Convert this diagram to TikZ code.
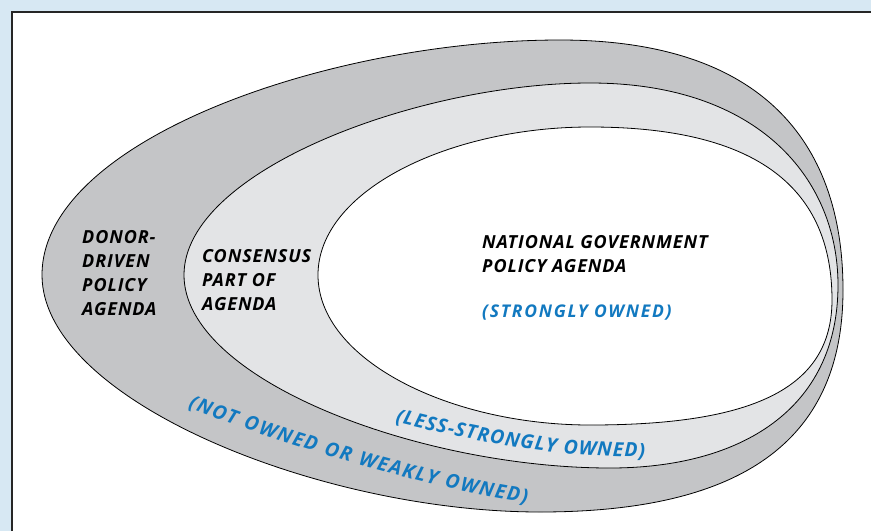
\documentclass[tikz,border=0pt]{standalone}
\usepackage{fontspec}
\setmainfont{Open Sans}
\newfontfamily\agendafamily{Open Sans}[LetterSpace=5]
\newfontfamily\ownfamily{Open Sans}[LetterSpace=10]
\usetikzlibrary{decorations.text}

\definecolor{framebg}{RGB}{215,232,243}
\definecolor{bandgray}{RGB}{196,197,199}
\definecolor{coregray}{RGB}{227,228,230}
\definecolor{ownblue}{RGB}{18,121,192}

\newcommand{\agendafont}{\agendafamily\fontsize{18}{24}\selectfont\bfseries\itshape}
\newcommand{\ownfont}{\ownfamily\fontsize{17.5}{20}\selectfont\bfseries\itshape}
\newcommand{\curvefont}{\fontsize{19.5}{22}\selectfont\bfseries\itshape}

\tikzset{
  egg/.style={draw=black, line width=0.8pt},
  agenda/.style={anchor=north west, inner sep=0pt, align=left, font=\agendafont},
  owned/.style={anchor=base west, inner sep=0pt, font=\ownfont, text=ownblue},
  ownpath/.style={decorate, decoration={text along path, text align=fit to path,
      text color=ownblue, text={|\curvefont|#1}}}
}

\begin{document}
\begin{tikzpicture}[x=1pt,y=-1pt]
\useasboundingbox (0,0) rectangle (871,531);
\fill[framebg] (0,0) rectangle (871,531);
\fill[white] (12,12) rectangle (871,531);
\draw[line width=1.3pt, black!85] (12,531) -- (12,12) -- (871,12);

% donor-driven band
\draw[egg, fill=bandgray] (42,275) .. controls (42,140) and (330,40) .. (560,40)
  .. controls (770,40) and (843,150) .. (843,290)
  .. controls (843,435) and (750,512) .. (540,512)
  .. controls (320,512) and (42,400) .. (42,275) -- cycle;
% consensus band
\draw[egg, fill=coregray] (184,275) .. controls (184,170) and (420,83) .. (590,83)
  .. controls (760,83) and (838,180) .. (838,285)
  .. controls (838,410) and (740,468) .. (610,468)
  .. controls (420,468) and (184,380) .. (184,275) -- cycle;
% national agenda
\draw[egg, fill=white] (318,275) .. controls (318,190) and (450,127) .. (590,127)
  .. controls (760,127) and (832,190) .. (832,300)
  .. controls (832,390) and (750,425) .. (590,425)
  .. controls (450,425) and (318,360) .. (318,275) -- cycle;

\node[agenda] (donor) at (82,230) {DONOR-\\DRIVEN\\POLICY\\AGENDA};
\node[agenda] (consensus) at (202,249) {CONSENSUS\\PART OF\\AGENDA};
\node[agenda] (national) at (482,235) {NATIONAL GOVERNMENT\\POLICY AGENDA};
\node[owned] (strong) at (482,317) {(STRONGLY OWNED)};

\path[ownpath={(LESS-STRONGLY OWNED)}] (395,422) .. controls (470,441) and (560,458) .. (645,457);
\path[ownpath={(NOT OWNED OR WEAKLY OWNED)}] (188,407) .. controls (260,438) and (440,492) .. (527,503);
\end{tikzpicture}
\end{document}
